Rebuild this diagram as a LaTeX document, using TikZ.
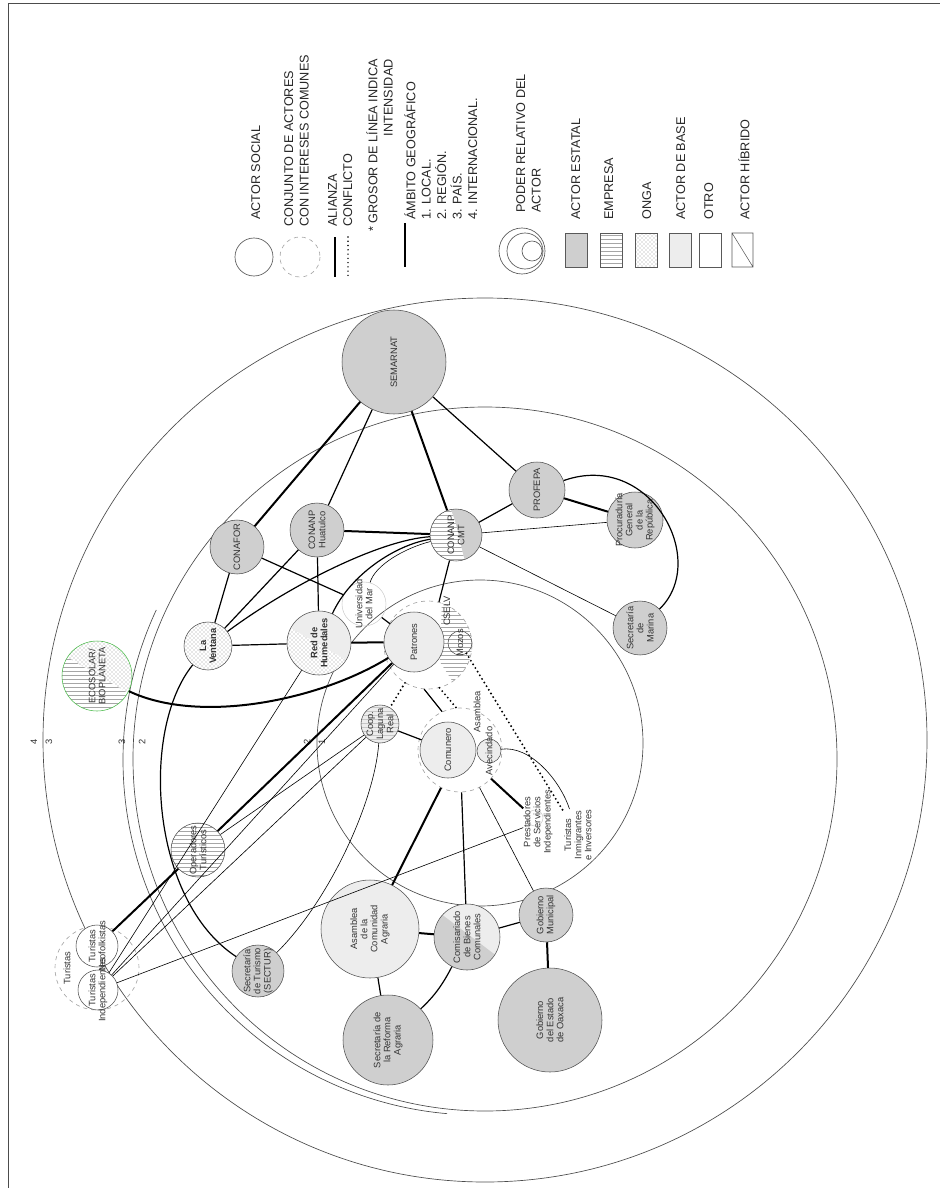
\documentclass[tikz,border=0pt]{standalone}
\usepackage{fontspec}
\setmainfont{Liberation Sans}
\usetikzlibrary{
    patterns,     % Rayas y puntos de los actores.
    positioning
}
\tikzset{
    etiqueta/.style={rotate=90, inner sep=0pt, align=center, font=\fontsize{7}{7.6}\selectfont, text=black!80},
    actor/.style={circle, draw=gray!60!black, line width=0.4pt, inner sep=0pt},
    txt/.style={label={[etiqueta]center:{#1}}},
    txtb/.style={label={[etiqueta, font=\fontsize{7}{7.6}\selectfont\bfseries]center:{#1}}},
    rad/.style={minimum size={#1*1.5pt}},
    estatal/.style={actor, fill=gray!38},
    base/.style={actor, fill=gray!14},
    otro/.style={actor, fill=white},
    empresa/.style={actor, preaction={fill=white}, pattern=horizontal lines, pattern color=gray!70},
    onga/.style={actor, preaction={fill=white}, pattern=crosshatch dots, pattern color=gray!80},
    grupo/.style={circle, draw=gray!70, dashed, line width=0.5pt, inner sep=0pt},
    anillo/.style={gray!60!black, line width=0.5pt},
    fuerte/.style={line width=1.5pt},
    media/.style={line width=0.9pt},
    debil/.style={line width=0.45pt},
    conflicto/.style={line width=1.6pt, dash pattern=on 0pt off 3.2pt, line cap=round},
    leyenda/.style={rotate=90, inner sep=0pt, anchor=north west, align=left,
        font=\fontsize{9.5}{11.6}\selectfont, text=black!85},
}

\begin{document}
\begin{tikzpicture}[x=0.75pt, y=-0.75pt]
    \useasboundingbox (0,0) rectangle (940,1188);
    \draw[gray!60!black, line width=0.6pt] (8,1188) -- (8,3) -- (940,3);

    % ambito geografico
    \draw[anillo] (485,740) circle[radius=442];
    \draw[anillo] (485,759) circle[radius=352];
    \draw[anillo] (478,760) ++(95:355) arc[start angle=95, end angle=205, radius=355];
    \draw[anillo] (480,743) circle[radius=163];
    \node[etiqueta] (n4) at (34,742) {4};
    \node[etiqueta] (n3a) at (49,742) {3};
    \node[etiqueta] (n3b) at (122,742) {3};
    \node[etiqueta] (n2a) at (142,742) {2};
    \node[etiqueta] (n2b) at (307,742) {2};
    \node[etiqueta] (n1) at (322,742) {1};

    % actores hibridos
    \begin{scope}
        \clip (456,535) circle[radius=26];
        \fill[gray!38] (425,505) rectangle (490,565);
        \fill[white] (425,505) -- (450,508) .. controls (458,525) and (460,545) .. (466,565) -- (425,565) -- cycle;
        \fill[pattern=horizontal lines, pattern color=gray!70] (425,505) -- (450,508) .. controls (458,525) and (460,545) .. (466,565) -- (425,565) -- cycle;
    \end{scope}
    \begin{scope}
        \clip (319,643) circle[radius=32];
        \fill[gray!14] (285,610) rectangle (355,680);
        \fill[white] (280,622) -- (360,668) -- (360,690) -- (280,690) -- cycle;
        \fill[pattern=crosshatch dots, pattern color=gray!80] (280,622) -- (360,668) -- (360,690) -- (280,690) -- cycle;
    \end{scope}
    \begin{scope}
        \clip (97,676) circle[radius=35];
        \fill[white] (55,630) rectangle (140,720);
        \fill[pattern=horizontal lines, pattern color=gray!70] (55,650) -- (140,700) -- (140,720) -- (55,720) -- cycle;
        \fill[pattern=crosshatch dots, pattern color=gray!80] (55,650) -- (140,700) -- (140,630) -- (55,630) -- cycle;
    \end{scope}
    \begin{scope}
        \clip (467,937) circle[radius=33];
        \fill[gray!14] (430,900) rectangle (505,975);
        \fill[gray!38] (420,898) -- (510,966) -- (510,1010) -- (420,1010) -- cycle;
    \end{scope}
    \begin{scope}
        \clip (428,645) circle[radius=44];
        \fill[pattern=horizontal lines, pattern color=gray!70] (442,595) -- (480,595) -- (480,700) -- (458,690) -- (440,662) -- cycle;
    \end{scope}

    % actores
    \node[estatal, rad=52, txt=SEMARNAT] (semarnat) at (394,362) {};
    \node[estatal, rad=28, txt=PROFEPA] (profepa) at (537,490) {};
    \node[actor, rad=26, txt={CONANP\\CMT}] (cmt) at (456,535) {};
    \node[estatal, rad=27, txt={CONANP\\Huatulco}] (huatulco) at (317,530) {};
    \node[estatal, rad=27, txt=CONAFOR] (conafor) at (237,547) {};
    \node[estatal, rad=28, txt={Procuraduría\\General\\de la\\República}] (pgr) at (635,520) {};
    \node[estatal, rad=27, txt={Secretaría\\de\\Marina}] (marina) at (640,628) {};
    \node[onga, rad=24, txtb={La\\Ventana}] (ventana) at (208,646) {};
    \node[actor, rad=32, txtb={Red de\\Humedales}] (red) at (319,643) {};
    \node[actor, rad=22, draw=gray!40, txt={Universidad\\del Mar}] (unimar) at (364,604) {};
    \node[actor, rad=35, draw=green!45!gray, txt={ECOSOLAR/\\BIOPLANETA}] (ecosolar) at (97,676) {};
    \node[grupo, rad=44] (gpatrones) at (428,645) {};
    \node[base, rad=30, txt=Patrones] (patrones) at (414,642) {};
    \node[actor, rad=12, txt=Mozos] (mozos) at (460,643) {};
    \node[etiqueta] (cselv) at (447,611) {CSELV};
    \node[actor, rad=19, preaction={fill=gray!14}, pattern=horizontal lines, pattern color=gray!45,
        txt={Coop.\\Laguna\\Real}] (coop) at (380,724) {};
    \node[grupo, rad=42] (gcomunero) at (460,750) {};
    \node[base, rad=28, txt=Comunero] (comunero) at (448,750) {};
    \node[base, rad=12, txt=Avecindado] (avecindado) at (489,751) {};
    \node[etiqueta] (asamblea) at (477,712) {Asamblea};
    \node[actor, rad=8, draw=gray!40] (cprestadores) at (535,818) {};
    \node[etiqueta] (prestadores) at (538,822) {Prestadores\\de Servicios\\Independientes};
    \node[etiqueta] (inmigrantes) at (578,835) {Turistas\\Inmigrantes\\e Inversores};
    \node[empresa, rad=27, txt={Operadores\\Turísticos}] (operadores) at (198,850) {};
    \node[estatal, rad=26, txt={Secretaría\\de Turismo\\(SECTUR)}] (sectur) at (258,971) {};
    \node[grupo, rad=42] (gturistas) at (97,968) {};
    \node[otro, rad=21, txt={Turistas\\Neofolkistas}] (neofolk) at (97,946) {};
    \node[otro, rad=20, txt={Turistas\\Independientes}] (independientes) at (98,990) {};
    \node[etiqueta] (turistas) at (67,968) {Turistas};
    \node[base, rad=49, txt={Asamblea\\de la\\Comunidad\\Agraria}] (asambleaca) at (370,929) {};
    \node[actor, rad=33, txt={Comisariado\\de Bienes\\Comunales}] (comisariado) at (467,937) {};
    \node[estatal, rad=27, txt={Gobierno\\Municipal}] (gobmun) at (546,915) {};
    \node[estatal, rad=52, txt={Gobierno\\del Estado\\de Oaxaca}] (gobestado) at (550,1020) {};
    \node[estatal, rad=45, txt={Secretaría de\\la Reforma\\Agraria}] (reforma) at (388,1040) {};

    % relaciones
    \draw[fuerte] (semarnat) -- (conafor);
    \draw[media] (semarnat) -- (huatulco);
    \draw[fuerte] (semarnat) -- (cmt);
    \draw[media] (semarnat) -- (profepa);
    \draw[media] (profepa) -- (cmt);
    \draw[fuerte] (profepa) -- (pgr);
    \draw[media] (profepa) .. controls (650,450) and (710,560) .. (marina);
    \draw[debil] (cmt) -- (pgr);
    \draw[debil] (cmt) -- (marina);
    \draw[media] (cmt) -- (gpatrones);
    \draw[fuerte] (huatulco) -- (cmt);
    \draw[media] (huatulco) -- (red);
    \draw[media] (huatulco) -- (ventana);
    \draw[media] (conafor) -- (ventana);
    \draw[media] (conafor) -- (unimar);
    \draw[media] (ventana) -- (red);
    \draw[media] (ventana) .. controls (290,585) and (380,540) .. (cmt);
    \draw[media] (red) .. controls (350,575) and (395,545) .. (cmt);
    \draw[debil] (unimar) .. controls (375,565) and (405,548) .. (cmt);
    \draw[media] (ventana) .. controls (140,730) and (150,900) .. (sectur);
    \draw[fuerte] (ecosolar) .. controls (200,725) and (320,700) .. (patrones);
    \draw[fuerte] (red) -- (patrones);
    \draw[media] (unimar) -- (patrones);
    \draw[fuerte] (operadores) -- (patrones);
    \draw[debil] (operadores) -- (coop);
    \draw[fuerte] (neofolk) -- (operadores);
    \draw[debil] (independientes) -- (patrones);
    \draw[debil] (independientes) -- (red);
    \draw[debil] (independientes) -- (coop);
    \draw[debil] (independientes) -- (prestadores);
    \draw[debil] (sectur) .. controls (330,900) and (375,800) .. (coop);
    \draw[conflicto] (gpatrones) -- (coop);
    \draw[media] (gpatrones.265) -- (gcomunero.115);
    \draw[conflicto] (gpatrones.285) -- (gcomunero.95);
    \draw[conflicto] (mozos) -- (inmigrantes);
    \draw[media] (coop) -- (comunero);
    \draw[fuerte] (gcomunero) -- (prestadores);
    \draw[debil] (avecindado) .. controls (530,745) and (560,780) .. (inmigrantes);
    \draw[fuerte] (gcomunero) -- (asambleaca);
    \draw[media] (gcomunero) -- (comisariado);
    \draw[debil] (gcomunero) -- (gobmun);
    \draw[fuerte] (asambleaca) -- (comisariado);
    \draw[media] (comisariado) -- (gobmun);
    \draw[fuerte] (gobmun) -- (gobestado);
    \draw[media] (asambleaca) -- (reforma);
    \draw[media] (comisariado) .. controls (440,990) and (430,1000) .. (reforma);

    % leyenda
    \draw[gray!70!black, line width=0.5pt] (254,257) circle[radius=19];
    \draw[gray!70, dashed, line width=0.5pt] (300,257) circle[radius=20];
    \draw[media] (335,237) -- (335,277);
    \draw[conflicto, line width=1.2pt] (348,237) -- (348,277);
    \draw[media] (405,223) -- (405,267);
    \draw[gray!70!black, line width=0.5pt] (522,251) circle[radius=23] (525,251) circle[radius=18] (532,251) circle[radius=10];
    \draw[gray!70!black, fill=gray!38] (565,233) rectangle (587,267);
    \draw[gray!70!black, pattern=horizontal lines, pattern color=gray!70] (600,233) rectangle (622,267);
    \draw[gray!70!black, pattern=crosshatch dots, pattern color=gray!80] (635,233) rectangle (657,267);
    \draw[gray!70!black, fill=gray!14] (669,233) rectangle (691,267);
    \draw[gray!70!black] (699,233) rectangle (721,267);
    \draw[gray!70!black] (732,233) rectangle (753,267) (732,233) -- (753,267);
    \node[leyenda] (lsocial) at (251,220) {ACTOR SOCIAL};
    \node[leyenda] (lconjunto) at (284,227) {CONJUNTO DE ACTORES\\CON INTERESES COMUNES};
    \node[leyenda] (lalianza) at (328,227) {ALIANZA};
    \node[leyenda] (lconflicto) at (343,227) {CONFLICTO};
    \node[leyenda, align=right] (lgrosor) at (366,232) {* GROSOR DE LÍNEA INDICA\\INTENSIDAD};
    \node[leyenda] (lambito) at (404,220) {ÁMBITO GEOGRÁFICO\\1. LOCAL.\\2. REGIÓN.\\3. PAÍS.\\4. INTERNACIONAL.};
    \node[leyenda] (lpoder) at (516,213) {PODER RELATIVO DEL\\ACTOR};
    \node[leyenda] (lestatal) at (571,220) {ACTOR ESTATAL};
    \node[leyenda] (lempresa) at (604,220) {EMPRESA};
    \node[leyenda] (longa) at (642,220) {ONGA};
    \node[leyenda] (lbase) at (676,220) {ACTOR DE BASE};
    \node[leyenda] (lotro) at (704,220) {OTRO};
    \node[leyenda] (lhibrido) at (738,220) {ACTOR HÍBRIDO};
\end{tikzpicture}
\end{document}
